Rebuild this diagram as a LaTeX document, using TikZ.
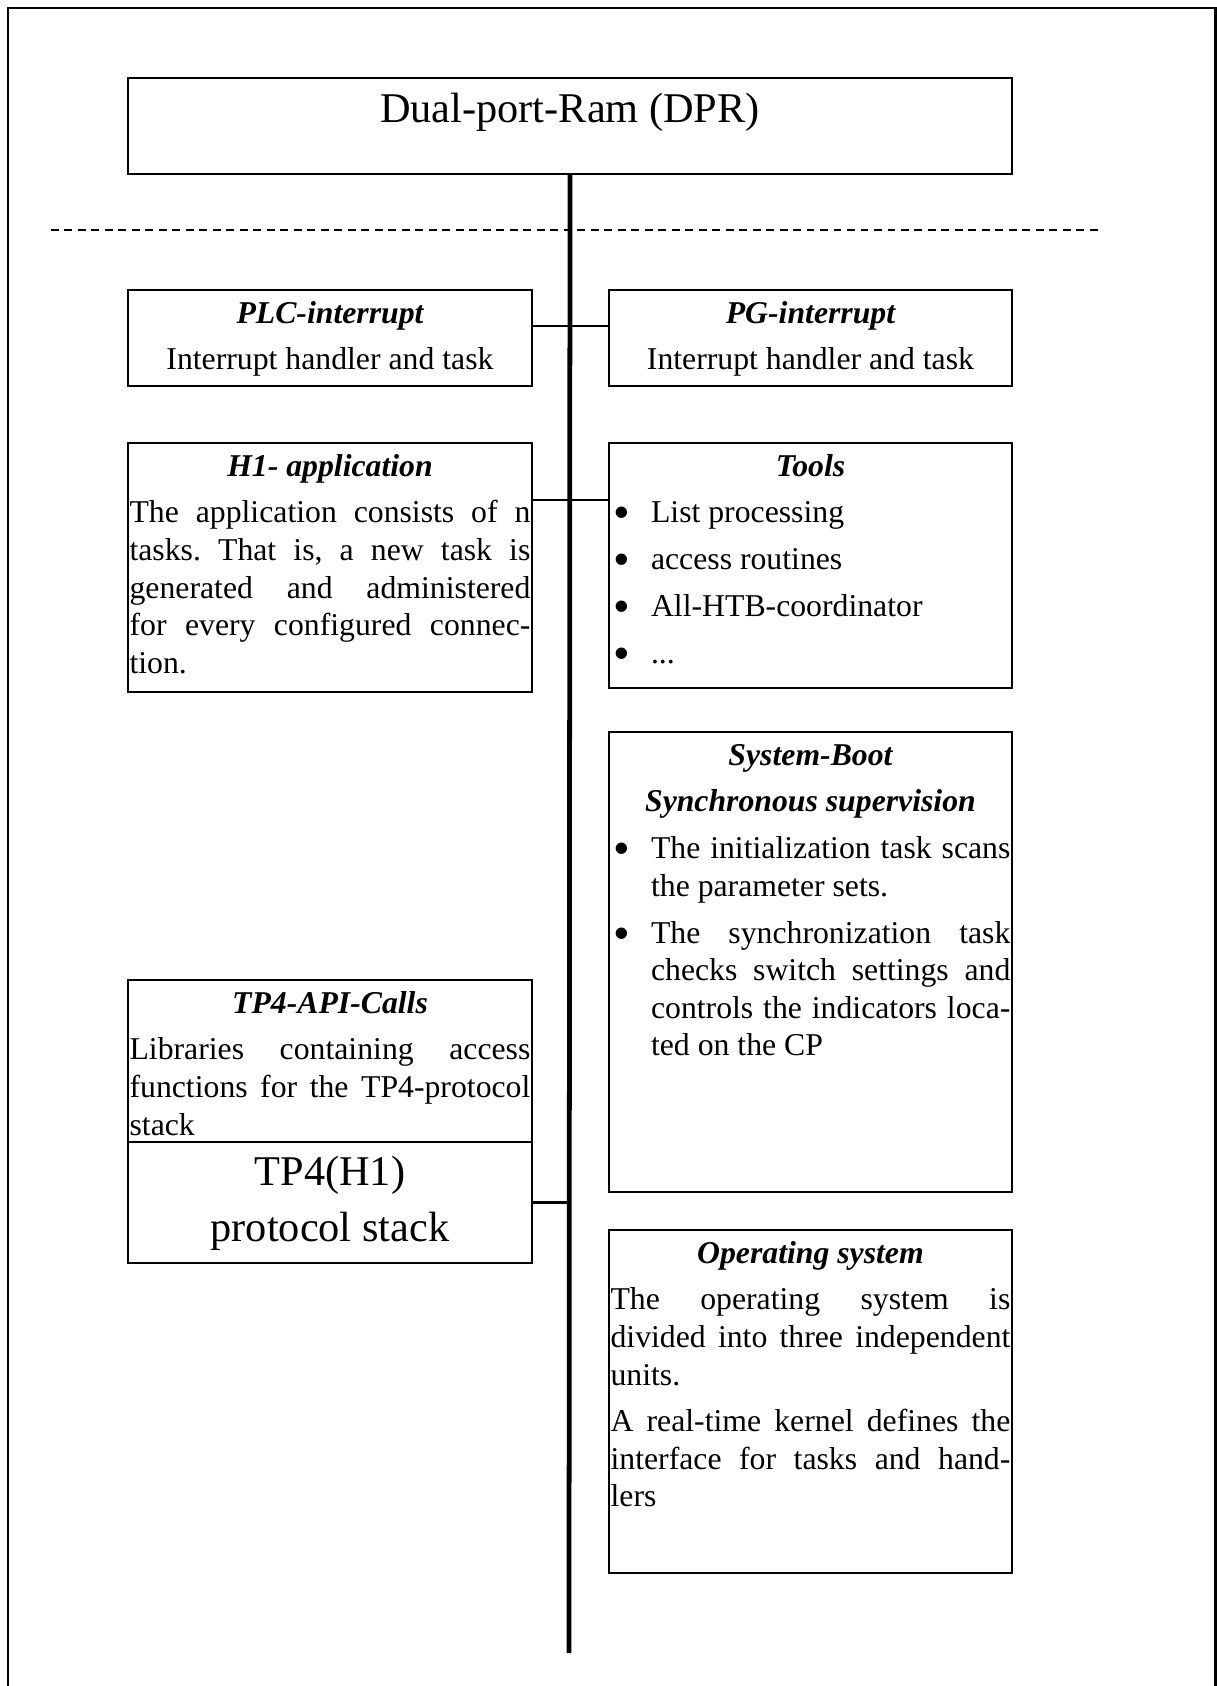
\documentclass[tikz,border=0pt]{standalone}
\usepackage{fontspec}
\setmainfont{Liberation Serif}
\frenchspacing
\newdimen\pxu \pxu=0.378pt
\newcommand\boxbody[3]{\parbox[t][#2\pxu][t]{\dimexpr#1\pxu-1.2pt\relax}{\fontsize{12}{14.2}\selectfont\frenchspacing#3}}
\newcommand\boxtitle[1]{{\centering\rule{0pt}{12.5pt}\bfseries\itshape#1\par}\parskip=3.5pt\relax}
\newcommand\boxsub[1]{{\centering\bfseries\itshape#1\par}}
\newcommand\bitem[1]{\hangindent=15.3pt\hangafter=1\noindent\makebox[15.3pt][l]{\hspace{1.2pt}\raisebox{-2.3pt}[0pt][0pt]{\fontsize{18}{14}\selectfont\textbullet}}#1\par}
\begin{document}
\begin{tikzpicture}[x=0.378pt,y=-0.378pt,
	box/.style={draw,line width=0.75pt,anchor=north west,inner xsep=0.6pt,inner ysep=0pt},
	link/.style={line width=1pt},
	bus/.style={line width=1.8pt}]
	\useasboundingbox (0,0) rectangle (1217,1686);
	\draw[line width=1pt] (8,1700) -- (8,8) -- (1215.5,8) -- (1215.5,1700);
	\node[box] (dpr) at (127,77) {\boxbody{884}{96}{\centering\fontsize{16}{18}\selectfont\rule{0pt}{17pt}Dual-port-Ram (DPR)}};
	\draw[line width=0.75pt,dash pattern=on 3pt off 2.1pt] (51,230) -- (1102,230);
	\node[box] (plc) at (127,289) {\boxbody{404}{96}{\boxtitle{PLC-interrupt}\centering Interrupt handler and task}};
	\node[box] (pg) at (608,289) {\boxbody{403}{96}{\boxtitle{PG-interrupt}\centering Interrupt handler and task}};
	\node[box] (hone) at (127,442) {\boxbody{404}{249}{\boxtitle{H1- application}The application consists of n\linebreak tasks. That is, a new task is\linebreak generated and administered\linebreak for every configured connec-\linebreak tion.}};
	\node[box] (tools) at (608,442) {\boxbody{403}{245}{\boxtitle{Tools}\bitem{List processing}\bitem{access routines}\bitem{All-HTB-coordinator}\bitem{...}}};
	\node[box] (boot) at (608,731) {\boxbody{403}{460}{\boxtitle{System-Boot}\boxsub{Synchronous supervision}\bitem{The initialization task scans\linebreak the parameter sets.}\bitem{The synchronization task\linebreak checks switch settings and\linebreak controls the indicators loca-\linebreak ted on the CP}}};
	\node[box] (api) at (127,979) {\boxbody{404}{162}{\boxtitle{TP4-API-Calls}Libraries containing access\linebreak functions for the TP4-protocol\linebreak stack}};
	\node[box] (stack) at (127,1141) {\boxbody{404}{121}{\centering\fontsize{16}{21.2}\selectfont\rule{0pt}{16.3pt}TP4(H1)\\protocol stack}};
	\node[box] (os) at (608,1229) {\boxbody{403}{343}{\boxtitle{Operating system}The operating system is\linebreak divided into three independent\linebreak units.\par A real-time kernel defines the\linebreak interface for tasks and hand-\linebreak lers}};
	% bus and its branches
	\coordinate (busend) at (569,1653);
	\draw[bus] (dpr.south) -- (busend);
	\draw[link] ([yshift=4.5pt]plc.east) -- ([yshift=4.5pt]pg.west);
	\draw[link] ([yshift=25.5pt]hone.east) -- ([yshift=25.5pt]hone.east -| tools.west);
	\draw[link] (stack.east) -- (stack.east -| busend);
\end{tikzpicture}
\end{document}
